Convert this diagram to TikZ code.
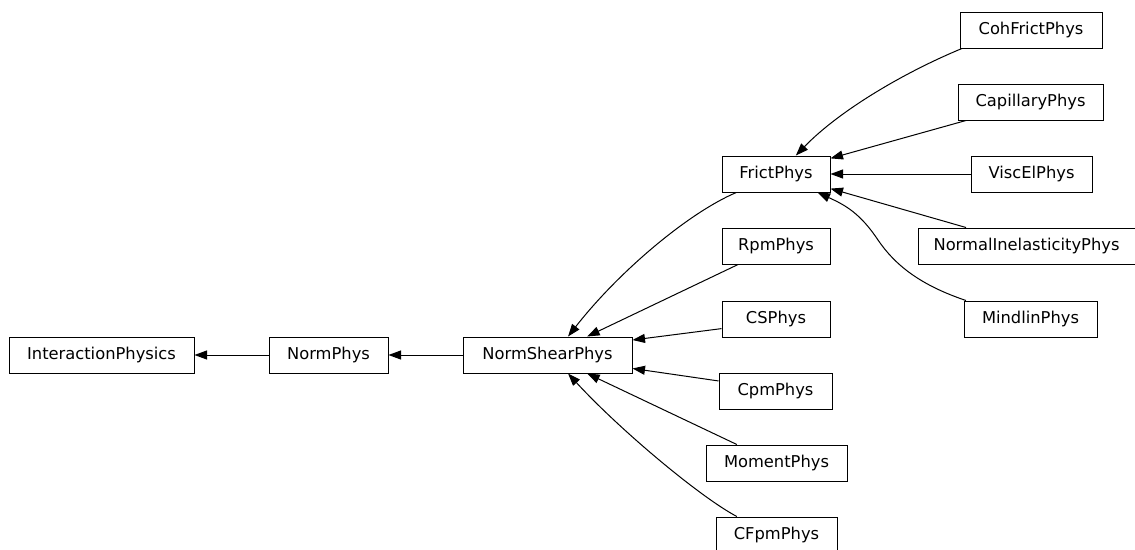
\documentclass[tikz,border=0pt]{standalone}
\usepackage{fontspec}
\setmainfont{DejaVu Sans}
\usetikzlibrary{arrows.meta}
\begin{document}
\begin{tikzpicture}[x=1pt,y=-1pt,
  cls/.style={draw=black, line width=1pt, minimum height=36pt, inner sep=0pt, font=\fontsize{16.3}{20}\selectfont},
  inh/.style={line width=1pt, -{Triangle[length=12.5pt,width=9pt]}}]
\useasboundingbox (0,0) rectangle (1135,549);
\clip (0,0) rectangle (1135,549);
% nodes
\node[cls, minimum width=185pt] (ip)  at (101.5,355) {InteractionPhysics};
\node[cls, minimum width=119pt] (np)  at (328.5,355) {NormPhys};
\node[cls, minimum width=169pt] (nsp) at (547.5,355) {NormShearPhys};
\node[cls, minimum width=108pt] (fp)  at (776,174) {FrictPhys};
\node[cls, minimum width=108pt] (rpm) at (776,246) {RpmPhys};
\node[cls, minimum width=108pt] (cs)  at (776,319) {CSPhys};
\node[cls, minimum width=113pt] (cpm) at (775.5,391) {CpmPhys};
\node[cls, minimum width=141pt] (mom) at (776.5,463) {MomentPhys};
\node[cls, minimum width=121pt] (cfpm) at (776.5,535) {CFpmPhys};
\node[cls, minimum width=142pt] (coh) at (1031,30) {CohFrictPhys};
\node[cls, minimum width=145pt] (cap) at (1030.5,102) {CapillaryPhys};
\node[cls, minimum width=121pt] (vis) at (1031.5,174) {ViscElPhys};
\node[cls, minimum width=217pt] (nip) at (1026.5,246) {NormalInelasticityPhys};
\node[cls, minimum width=133pt] (min) at (1030.5,319) {MindlinPhys};
% edges
\draw[inh] (np.west) -- (ip.east);
\draw[inh] (nsp.west) -- (np.east);
\draw[inh] (fp.-155.2) .. controls (690,212) and (620,270) .. (nsp.42.7);
\draw[inh] (rpm.-154.7) -- (nsp.25.6);
\draw[inh] (cs.-170.5) -- (nsp.10.1);
\draw[inh] (cpm.170.9) -- (nsp.-9.4);
\draw[inh] (mom.155.5) -- (nsp.-25.6);
\draw[inh] (cfpm.155.5) .. controls (700,497) and (620,430) .. (nsp.-42.7);
\draw[inh] (coh.-165.6) .. controls (905,72) and (840,110) .. (fp.43.5);
\draw[inh] (cap.-164.4) -- (fp.16.5);
\draw[inh] (vis.west) -- (fp.east);
\draw[inh] (nip.163.4) -- (fp.-15.5);
\draw[inh] (min.164.6) .. controls (920,285) and (895,265) .. (878,240) .. controls (860,213) and (845,205) .. (fp.-24.2);
\end{tikzpicture}
\end{document}
